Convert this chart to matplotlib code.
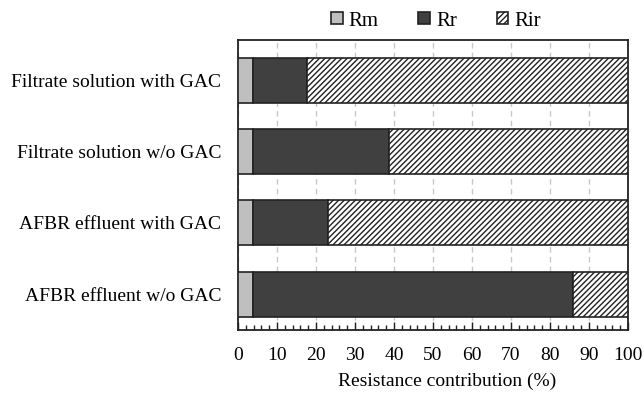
import matplotlib
matplotlib.use("Agg")
import matplotlib.pyplot as plt
import numpy as np
from matplotlib.ticker import MultipleLocator

categories = ["AFBR effluent w/o GAC", "AFBR effluent with GAC",
              "Filtrate solution w/o GAC", "Filtrate solution with GAC"]
Rm = [3.8, 3.8, 3.8, 3.8]
Rr = [82.0, 19.3, 34.9, 13.9]
Rir = [14.2, 76.9, 61.3, 82.3]
xticks = list(range(0, 101, 10))

plt.rcParams['font.family'] = ['Liberation Serif', 'DejaVu Serif']
plt.rcParams['hatch.linewidth'] = 1.0
plt.rcParams['hatch.color'] = '#222222'

fig = plt.figure(figsize=(6.44, 3.98), dpi=100)
ax = fig.add_axes([238/644, 1-330/398, 390/644, 290/398])

y = np.arange(len(categories))
h = 0.63
ec = '#222222'
ax.barh(y, Rm, height=h, color='#bfbfbf', edgecolor=ec, linewidth=1.2, label='Rm', zorder=3)
ax.barh(y, Rr, left=Rm, height=h, color='#404040', edgecolor=ec, linewidth=1.2, label='Rr', zorder=3)
left2 = np.array(Rm) + np.array(Rr)
ax.barh(y, Rir, left=left2, height=h, color='white', edgecolor=ec, linewidth=1.2,
        hatch='//////', label='Rir', zorder=3)

ax.set_xlim(0, 100)
ax.set_ylim(-0.5, 3.56)
ax.set_xticks(xticks)
ax.xaxis.set_minor_locator(MultipleLocator(2))
ax.tick_params(axis='x', which='major', direction='in', length=6, width=1, labelsize=14, pad=12, color='#222222')
ax.tick_params(axis='x', which='minor', direction='in', length=3.5, width=1, color='#222222')
ax.set_yticks(y)
ax.set_yticklabels(categories, fontsize=14)
ax.tick_params(axis='y', length=0, pad=12)
ax.grid(axis='x', linestyle=(0, (4, 3)), color='#c8c8c8', linewidth=1, zorder=0)
for s in ax.spines.values():
    s.set_color('#222222')
    s.set_linewidth(1.3)

ax.set_xlabel('Resistance contribution (%)', fontsize=14)
ax.xaxis.label.set_va('center')
ax.xaxis.set_label_coords((447 - 238) / 390, -(381 - 330) / 290)

leg = fig.legend(loc='center', bbox_to_anchor=(436/644, 1-21/398), ncol=3, frameon=False,
                 fontsize=15, handlelength=0.55, handleheight=0.45, handletextpad=0.3,
                 columnspacing=1.9)

fig.savefig('out.png', dpi=100)
